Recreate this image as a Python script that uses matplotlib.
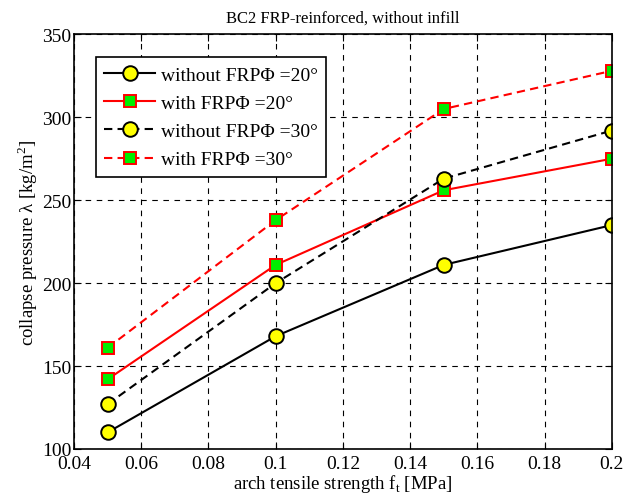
import matplotlib
matplotlib.use("Agg")
import matplotlib.pyplot as plt

x = [0.05, 0.10, 0.15, 0.20]
without_20 = [110, 168, 211, 235]
with_20 = [142, 211, 256, 275]
without_30 = [127, 200, 263, 292]
with_30 = [161, 238, 305, 328]
labels = ["without FRPΦ =20°", "with FRPΦ =20°",
          "without FRPΦ =30°", "with FRPΦ =30°"]

plt.rcParams['font.family'] = ['Liberation Serif', 'DejaVu Serif']
plt.rcParams['mathtext.fontset'] = 'custom'
plt.rcParams['mathtext.rm'] = 'Liberation Serif'

fig = plt.figure(figsize=(6.38, 5.02), dpi=100)
ax = fig.add_axes([0.116, 0.1036, 0.843, 0.826])

circ = dict(marker='o', markersize=10.5, markerfacecolor='yellow', markeredgecolor='black', markeredgewidth=1.4)
sq = dict(marker='s', markersize=8.5, markerfacecolor='#00ee00', markeredgecolor='red', markeredgewidth=1.4)
ax.plot(x, without_20, color='black', lw=1.5, ls='-', label=labels[0], **circ)
ax.plot(x, with_20, color='red', lw=1.5, ls='-', label=labels[1], **sq)
ax.plot(x, without_30, color='black', lw=1.5, ls=(0, (4, 2.5)), label=labels[2], **circ)
ax.plot(x, with_30, color='red', lw=1.5, ls=(0, (4, 2.5)), label=labels[3], **sq)

ax.set_xlim(0.04, 0.2)
ax.set_ylim(100, 350)
ax.set_xticks([0.04, 0.06, 0.08, 0.1, 0.12, 0.14, 0.16, 0.18, 0.2])
ax.set_xticklabels(['0.04', '0.06', '0.08', '0.1', '0.12', '0.14', '0.16', '0.18', '0.2'])
ax.set_yticks([100, 150, 200, 250, 300, 350])
ax.grid(True, color='black', ls=(0, (5, 5)), lw=0.8)
ax.tick_params(direction='in', top=True, right=True, labelsize=14, length=5, pad=1)
ax.tick_params(axis='x', pad=4)
ax.tick_params(axis='y', pad=2)
for s in ax.spines.values():
    s.set_linewidth(1.2)

ax.set_title('BC2 FRP-reinforced, without infill', fontsize=12, pad=9)
ax.set_xlabel(r'arch tensile strength f$_\mathrm{t}$ [MPa]', fontsize=13.5, labelpad=0)
ax.set_ylabel(r'collapse pressure λ [kg/m$^\mathrm{2}$]', fontsize=13.5, labelpad=1)

leg = ax.legend(loc='upper left', bbox_to_anchor=(0.04, 0.945), fontsize=14, handlelength=2.6,
                frameon=True, fancybox=False, edgecolor='black', framealpha=1,
                borderpad=0.45, labelspacing=0.55, handletextpad=0.3, borderaxespad=0)
leg.get_frame().set_linewidth(1.2)

fig.savefig('out.png', dpi=100)
